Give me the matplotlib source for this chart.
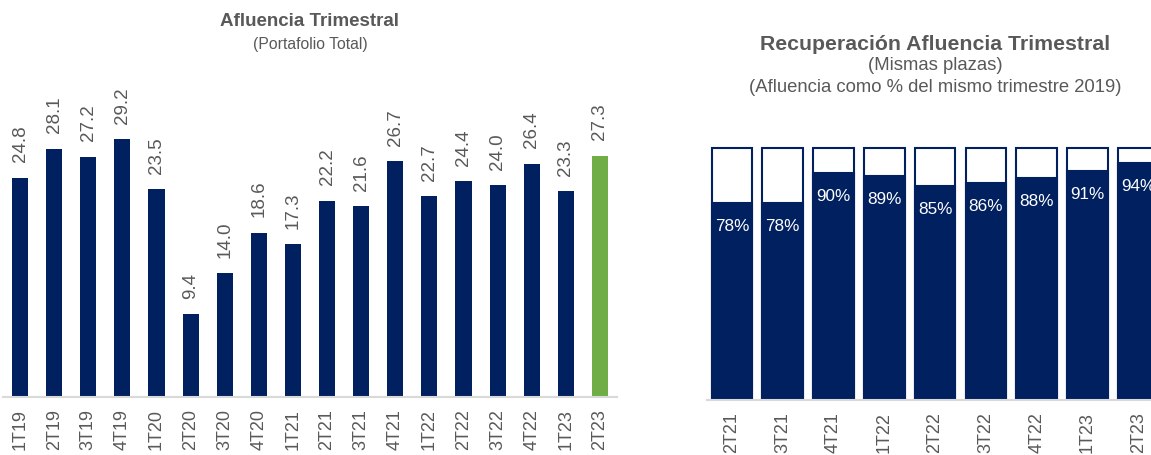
import matplotlib.pyplot as plt

plt.rcParams['font.family'] = ['Liberation Sans', 'DejaVu Sans']

# datos
trimestres = ['1T19', '2T19', '3T19', '4T19', '1T20', '2T20', '3T20', '4T20', '1T21',
              '2T21', '3T21', '4T21', '1T22', '2T22', '3T22', '4T22', '1T23', '2T23']
afluencia = [24.8, 28.1, 27.2, 29.2, 23.5, 9.4, 14.0, 18.6, 17.3,
             22.2, 21.6, 26.7, 22.7, 24.4, 24.0, 26.4, 23.3, 27.3]

trim_rec = ['2T21', '3T21', '4T21', '1T22', '2T22', '3T22', '4T22', '1T23', '2T23']
recuperacion = [0.78, 0.78, 0.90, 0.89, 0.85, 0.86, 0.88, 0.91, 0.94]

azul = '#002060'
verde = '#70AD47'
gris = '#595959'
linea = '#D9D9D9'

fig = plt.figure(figsize=(11.51, 4.55), dpi=100)

# Afluencia trimestral
ax1 = fig.add_axes([3 / 1151, 58 / 455, 614 / 1151, 353.6 / 455])
colores = [azul] * (len(afluencia) - 1) + [verde]
x = range(len(trimestres))
ax1.bar(x, afluencia, width=0.47, color=colores)
for i, v in enumerate(afluencia):
    ax1.annotate(f'{v:.1f}', (i, v), xytext=(0, 11), textcoords='offset points',
                 rotation=90, ha='center', va='bottom', fontsize=13.5, color=gris)
ax1.set_xlim(-0.5, len(trimestres) - 0.5)
ax1.set_ylim(0, 40)
ax1.set_xticks(list(x))
ax1.set_xticklabels(trimestres, rotation=90, fontsize=13, color=gris)
ax1.tick_params(axis='x', length=0, pad=9)
ax1.set_yticks([])
for s in ['top', 'right', 'left']:
    ax1.spines[s].set_visible(False)
ax1.spines['bottom'].set_color(linea)
ax1.spines['bottom'].set_linewidth(1.5)
fig.text(310 / 1151, 1 - 22 / 455, 'Afluencia Trimestral', ha='center', va='center',
         fontsize=13.5, fontweight='bold', color=gris)
fig.text(310 / 1151, 1 - 45 / 455, '(Portafolio Total)', ha='center', va='center',
         fontsize=11.3, color=gris)

# Recuperación afluencia
ax2 = fig.add_axes([706.6 / 1151, 55.5 / 455, 457 / 1151, 301.8 / 455])
x2 = range(len(trim_rec))
ax2.bar(x2, [1.0] * len(trim_rec), width=0.8, color='white', edgecolor=azul, linewidth=1.5)
ax2.bar(x2, recuperacion, width=0.8, color=azul, edgecolor=azul, linewidth=1.5)
for i, v in enumerate(recuperacion):
    ax2.annotate(f'{v:.0%}', (i, v), xytext=(0, -17), textcoords='offset points',
                 ha='center', va='center', fontsize=12.3, color='white')
ax2.set_xlim(-0.5, len(trim_rec) - 0.5)
ax2.set_ylim(0, 1.2)
ax2.set_xticks(list(x2))
ax2.set_xticklabels(trim_rec, rotation=90, fontsize=13, color=gris)
ax2.tick_params(axis='x', length=0, pad=9)
ax2.set_yticks([])
for s in ['top', 'right', 'left']:
    ax2.spines[s].set_visible(False)
ax2.spines['bottom'].set_color(linea)
ax2.spines['bottom'].set_linewidth(1.5)
fig.text(935 / 1151, 1 - 45 / 455, 'Recuperación Afluencia Trimestral', ha='center',
         va='center', fontsize=15.3, fontweight='bold', color=gris)
fig.text(935 / 1151, 1 - 66 / 455, '(Mismas plazas)', ha='center', va='center',
         fontsize=13.3, color=gris)
fig.text(935 / 1151, 1 - 88 / 455, '(Afluencia como % del mismo trimestre 2019)',
         ha='center', va='center', fontsize=13.3, color=gris)

fig.savefig('out.png', dpi=100)
